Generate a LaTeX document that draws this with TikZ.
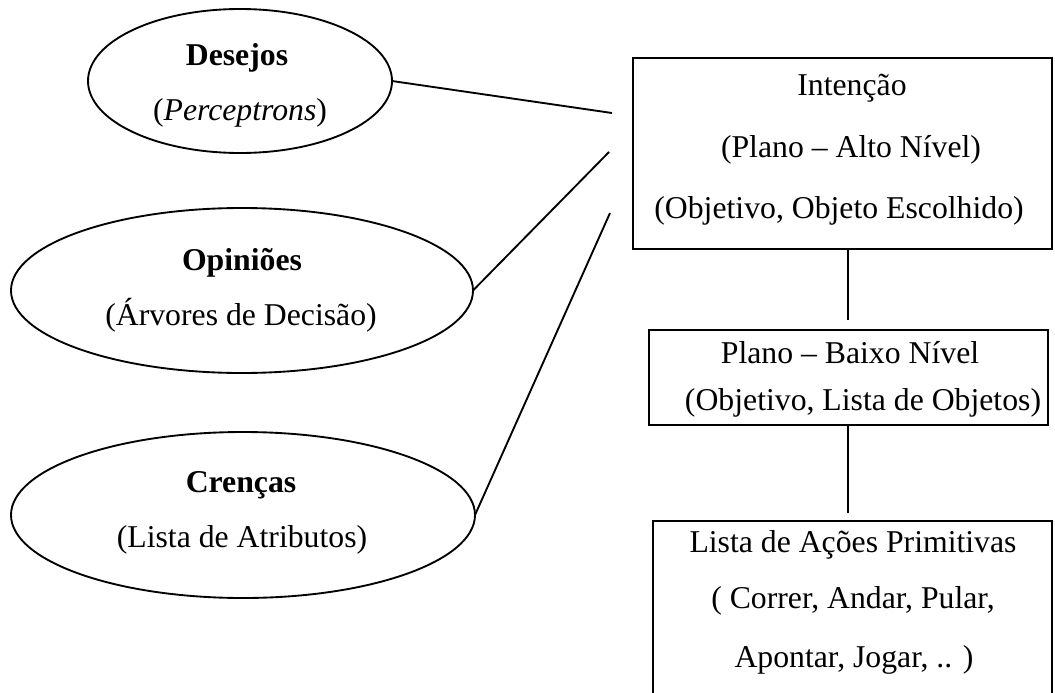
\documentclass[tikz,border=0pt]{standalone}
\usepackage{fontspec}
\setmainfont{Liberation Serif}
\usetikzlibrary{shapes.geometric}
\begin{document}
\begin{tikzpicture}[x=0.75pt,y=-0.75pt,
  line width=1.4pt,
  ell/.style={draw, ellipse, inner sep=0pt, outer sep=0pt},
  box/.style={draw, rectangle, inner sep=0pt, outer sep=0pt},
  txt/.style={inner sep=0pt, anchor=base, font=\fontsize{23.8pt}{28pt}\selectfont},
  conn/.style={line width=1.4pt}]
\useasboundingbox (0,0) rectangle (1055,692);
\clip (0,0) rectangle (1055,692);
% ellipses
\node[ell, minimum width=228pt, minimum height=108pt] (e1) at (240,81) {};
\node[ell, minimum width=346.5pt, minimum height=123.75pt] (e2) at (242,290.5) {};
\node[ell, minimum width=348pt, minimum height=124.5pt] (e3) at (243,515) {};
% boxes
\node[box, minimum width=314.25pt, minimum height=143.25pt] (b1) at (842.5,153.5) {};
\node[box, minimum width=299.25pt, minimum height=71.25pt] (b2) at (848.5,377.5) {};
\node[box, minimum width=299.25pt, minimum height=149.25pt] (b3) at (852.5,620.5) {};
% texts
\node[txt] (t11) at (237,65) {\textbf{Desejos}};
\node[txt] (t12) at (240,120) {(\textit{Perceptrons})};
\node[txt] (t21) at (242,270) {\textbf{Opiniões}};
\node[txt] (t22) at (241,325) {(Árvores de Decisão)};
\node[txt] (t31) at (241,492) {\textbf{Crenças}};
\node[txt] (t32) at (242,547) {(Lista de Atributos)};
\node[txt] (u11) at (852,95) {Intenção};
\node[txt] (u12) at (851,157) {(Plano – Alto Nível)};
\node[txt] (u13) at (839,218) {(Objetivo, Objeto Escolhido)};
\node[txt] (u21) at (850,363) {Plano – Baixo Nível};
\node[txt] (u22) at (863,410) {(Objetivo, Lista de Objetos)};
\node[txt] (u31) at (853,552) {Lista de Ações Primitivas};
\node[txt] (u32) at (853,608) {( Correr, Andar, Pular,};
\node[txt] (u33) at (854,667) {Apontar, Jogar, .. )};
% free ends of connectors
\coordinate (a1) at (612,113);
\coordinate (a2) at (609,152);
\coordinate (a3) at (610,213);
\coordinate (v1) at (848,320);
\coordinate (v2) at (848,513);
% connectors
\draw[conn] (e1.east) -- (a1);
\draw[conn] (e2.east) -- (a2);
\draw[conn] (e3.east) -- (a3);
\draw[conn] (b1.south -| v1) -- (v1);
\draw[conn] (b2.south -| v2) -- (v2);
\end{tikzpicture}
\end{document}
